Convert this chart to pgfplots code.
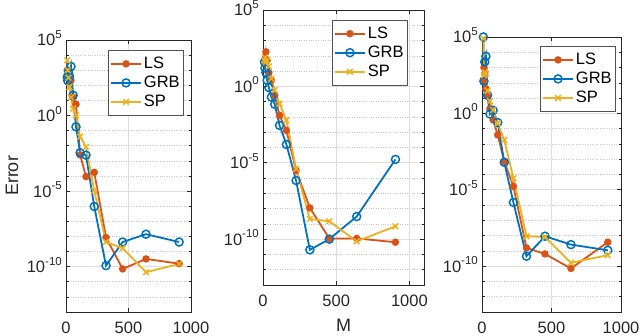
\documentclass[border=0pt]{standalone}
\usepackage{pgfplots}
\pgfplotsset{compat=1.18}
\usepackage{fontspec}
\setmainfont{Liberation Sans}
\definecolor{cLS}{HTML}{D95319}
\definecolor{cGRB}{HTML}{0072BD}
\definecolor{cSP}{HTML}{EDB120}
\definecolor{axc}{gray}{0.15}
\newcommand{\tp}[1]{10\raisebox{0.45em}{\fontsize{11.5}{11.5}\selectfont #1}}
\pgfplotsset{
  every axis/.append style={
    scale only axis, anchor=south west,
    ymode=log, xmin=0, xmax=1000, ymin=1e-13, ymax=1e5,
    xtick={0,500,1000}, xticklabels={0,500,1000},
    ytick={1e-10,1e-5,1,1e5}, yticklabels={\tp{-10},\tp{-5},\tp{0},\tp{5}},
    minor ytick={1e-13,1e-12,1e-11,1e-9,1e-8,1e-7,1e-6,1e-4,1e-3,1e-2,1e-1,1e1,1e2,1e3,1e4},
    grid=both,
    major grid style={black!13, line width=0.6pt},
    minor grid style={black!22, dotted, line width=0.6pt},
    axis line style={axc, line width=0.7pt},
    tick style={axc, line width=0.6pt},
    tick align=inside, major tick length=4pt, minor tick length=2.5pt,
    ticklabel style={font=\fontsize{16.5}{18}\selectfont, text=axc},
    xticklabel style={anchor=north, inner sep=0pt, yshift=-10pt},
    yticklabel style={anchor=base east, inner sep=0pt, xshift=-4pt, yshift=-6pt},
    legend style={draw=axc!80, fill=white, line width=0.6pt, font=\fontsize{16.5}{19}\selectfont, text=black,
      anchor=north east, inner xsep=2pt, inner ysep=5pt, row sep=2pt},
    legend cell align=left,
    label style={font=\fontsize{18}{20}\selectfont, text=axc},
  },
  legend image code/.code={\draw[mark repeat=2,mark phase=2] plot coordinates {(0pt,0pt) (15pt,0pt) (30pt,0pt)};},
}
\pgfplotstableread{
M LS GRB SP
10 1e3 3.55e2 4.47e3
14 3.98e2 2.0e2 1e3
20 7.59e2 7.59e2 3.16e2
28 3.16e2 3.98e2 77.6
40 2.14e2 1.78e3 15.8
57 15.8 21.9 2.88
80 5.62 1.78e-1 1.05
113 2.51e-3 3.47e-3 3.98e-2
160 9.12e-5 2.4e-3 8.51e-3
226 1.74e-4 9.55e-7 1.07e-5
320 8.5e-9 1.17e-10 4.27e-9
453 7.08e-11 4.27e-9 1.7e-9
640 3.24e-10 1.41e-8 4.27e-11
905 1.58e-10 4.27e-9 1.51e-10
}\tA
\pgfplotstableread{
M LS GRB SP
10 31.6 39.8 50.1
14 63.1 15.8 79.4
20 182 7.94 39.8
28 50.1 2.51 50.1
40 7.94 0.832 20
57 2.51 0.2 3.16
80 0.251 6.76e-2 0.562
113 1.26e-2 2.82e-3 7.41e-2
160 1.32e-3 1.58e-4 6.03e-3
226 3.16e-6 6.92e-7 3.98e-6
320 1.12e-8 2e-11 2.09e-9
453 1.12e-10 1e-10 1.48e-9
640 1.12e-10 3.02e-9 7.24e-11
905 6.31e-11 1.66e-5 6.92e-10
}\tB
\pgfplotstableread{
M LS GRB SP
10 158 1e5 8e4
14 1e3 126 316
20 398 2.34e3 501
28 39.8 5.5e3 398
40 12.6 15.8 31.6
57 2.0 0.912 6.31
80 0.372 1.58 1.66
113 3.89e-2 0.251 0.224
160 7.08e-4 6.31e-4 1.82e-2
226 1.66e-5 1.48e-6 5.75e-5
320 1.58e-9 4.47e-10 9.12e-9
453 6.31e-10 9.12e-9 8.13e-9
640 7.08e-11 2.57e-9 1.66e-10
905 3.72e-9 1.1e-9 5.25e-10
}\tC
\begin{document}
\begin{tikzpicture}
\path[use as bounding box] (0pt,0pt) rectangle (640pt,336pt);
% panel 1
\begin{axis}[at={(66pt,24pt)}, width=125pt, height=272pt,
  ylabel={Error}, ylabel style={at={(axis description cs:-0.432,0.5)}, anchor=center},
  legend style={at={(axis description cs:0.944,0.963)}}]
\addplot[cLS, line width=1.8pt, mark=*, mark size=2.8pt] table[x=M,y=LS] {\tA};
\addplot[cGRB, line width=1.8pt, mark=o, mark size=4pt, mark options={line width=1.5pt}] table[x=M,y=GRB] {\tA};
\addplot[cSP, line width=1.8pt, mark=x, mark size=4pt, mark options={line width=1.5pt}] table[x=M,y=SP] {\tA};
\legend{LS,GRB,SP}
\end{axis}
% panel 2
\begin{axis}[at={(263pt,51pt)}, width=161pt, height=275pt, xmax=1100,
  xlabel={M}, xlabel style={at={(axis description cs:0.5,-0.145)}, anchor=center},
  legend style={at={(axis description cs:0.90,0.964)}}]
\addplot[cLS, line width=1.8pt, mark=*, mark size=2.8pt] table[x=M,y=LS] {\tB};
\addplot[cGRB, line width=1.8pt, mark=o, mark size=4pt, mark options={line width=1.5pt}] table[x=M,y=GRB] {\tB};
\addplot[cSP, line width=1.8pt, mark=x, mark size=4pt, mark options={line width=1.5pt}] table[x=M,y=SP] {\tB};
\legend{LS,GRB,SP}
\end{axis}
% panel 3
\begin{axis}[at={(482pt,24pt)}, width=139pt, height=275pt,
  legend style={at={(axis description cs:0.964,0.967)}}]
\addplot[cLS, line width=1.8pt, mark=*, mark size=2.8pt] table[x=M,y=LS] {\tC};
\addplot[cGRB, line width=1.8pt, mark=o, mark size=4pt, mark options={line width=1.5pt}] table[x=M,y=GRB] {\tC};
\addplot[cSP, line width=1.8pt, mark=x, mark size=4pt, mark options={line width=1.5pt}] table[x=M,y=SP] {\tC};
\legend{LS,GRB,SP}
\end{axis}
\end{tikzpicture}
\end{document}
